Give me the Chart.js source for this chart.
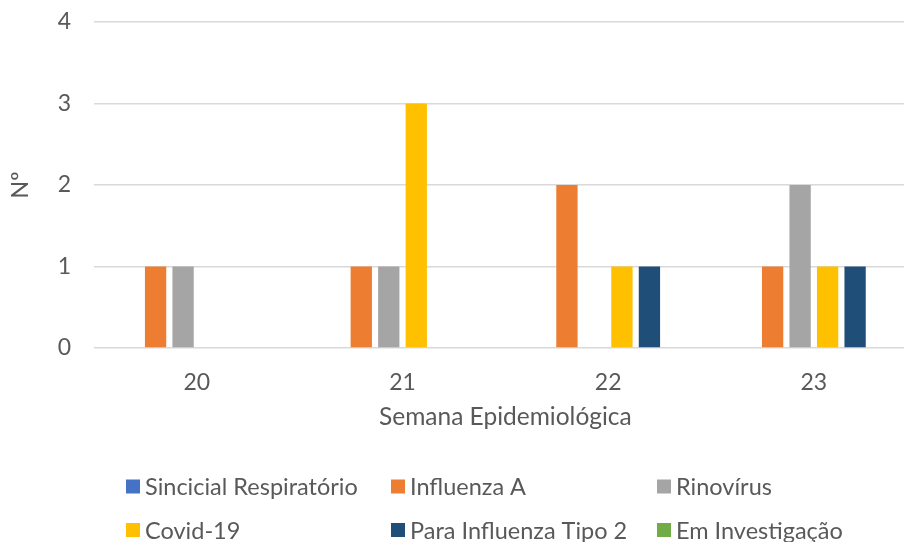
<!DOCTYPE html>
<html>
<head>
<meta charset="utf-8">
<script src="https://cdn.jsdelivr.net/npm/chart.js@4/dist/chart.umd.min.js"></script>
<style>
html,body{margin:0;padding:0;overflow:hidden;background:#fff;}
#wrap{width:920px;height:542px;position:relative;}
</style>
</head>
<body>
<div id="wrap"><canvas id="c" width="920" height="542"></canvas></div>
<script>
const categories = ['20', '21', '22', '23'];
const seriesNames = ['Sincicial Respiratório', 'Influenza A', 'Rinovírus', 'Covid-19', 'Para Influenza Tipo 2', 'Em Investigação'];
const sincicial = [0, 0, 0, 0];
const influenzaA = [1, 1, 2, 1];
const rinovirus = [1, 1, 0, 2];
const covid19 = [0, 3, 1, 1];
const paraInfluenza2 = [0, 0, 1, 1];
const emInvestigacao = [0, 0, 0, 0];
const yTicks = [0, 1, 2, 3, 4];
const xTitle = 'Semana Epidemiológica';
const yTitle = 'Nº';

const colors = ['#4472C4', '#ED7D31', '#A5A5A5', '#FFC000', '#1F4E79', '#70AD47'];
const values = [sincicial, influenzaA, rinovirus, covid19, paraInfluenza2, emInvestigacao];
const FONT = 'Lato';
const TXT = '#595959';

const legendPlugin = {
  id: 'gridLegend',
  afterDraw(chart) {
    const ctx = chart.ctx;
    const cols = [126, 391, 657];
    const rows = [486.5, 530];
    ctx.save();
    ctx.font = '23.5px ' + FONT;
    ctx.textBaseline = 'middle';
    ctx.textAlign = 'left';
    chart.data.datasets.forEach((ds, i) => {
      const x = cols[i % 3], y = rows[Math.floor(i / 3)];
      ctx.fillStyle = ds.backgroundColor;
      ctx.fillRect(x, y - 7, 14, 14);
      ctx.fillStyle = TXT;
      ctx.fillText(ds.label, x + 19, y + 1);
    });
    ctx.restore();
  }
};

new Chart(document.getElementById('c'), {
  type: 'bar',
  data: {
    labels: categories,
    datasets: seriesNames.map((n, i) => ({
      label: n,
      data: values[i],
      backgroundColor: colors[i],
      borderWidth: 0,
      categoryPercentage: 0.802,
      barPercentage: 0.775
    }))
  },
  options: {
    responsive: false,
    animation: false,
    layout: { padding: { top: 22, right: 3.3, bottom: 110, left: 0 } },
    plugins: { legend: { display: false }, tooltip: { enabled: false } },
    scales: {
      x: {
        grid: { display: false, drawTicks: false },
        border: { display: false },
        ticks: { color: TXT, font: { family: FONT, size: 23 }, padding: 21 },
        title: { display: true, text: xTitle, color: TXT, font: { family: FONT, size: 24.5 }, padding: { top: 0, bottom: 0 } },
        afterFit(s) { s.height = 84; s.paddingLeft = 0; s.paddingRight = 0; }
      },
      y: {
        min: 0, max: 4,
        afterBuildTicks(s) { s.ticks = yTicks.map(v => ({ value: v })); },
        grid: { color: '#d9d9d9', lineWidth: 1.5, drawTicks: false },
        border: { display: false },
        ticks: { color: TXT, font: { family: FONT, size: 23 }, padding: 23 },
        title: { display: true, text: yTitle, color: TXT, font: { family: FONT, size: 23 }, padding: { top: 7, bottom: 0 } },
        afterFit(s) { s.width = 94; s.paddingTop = 0; s.paddingBottom = 0; }
      }
    }
  },
  plugins: [legendPlugin]
});
</script>
</body>
</html>
